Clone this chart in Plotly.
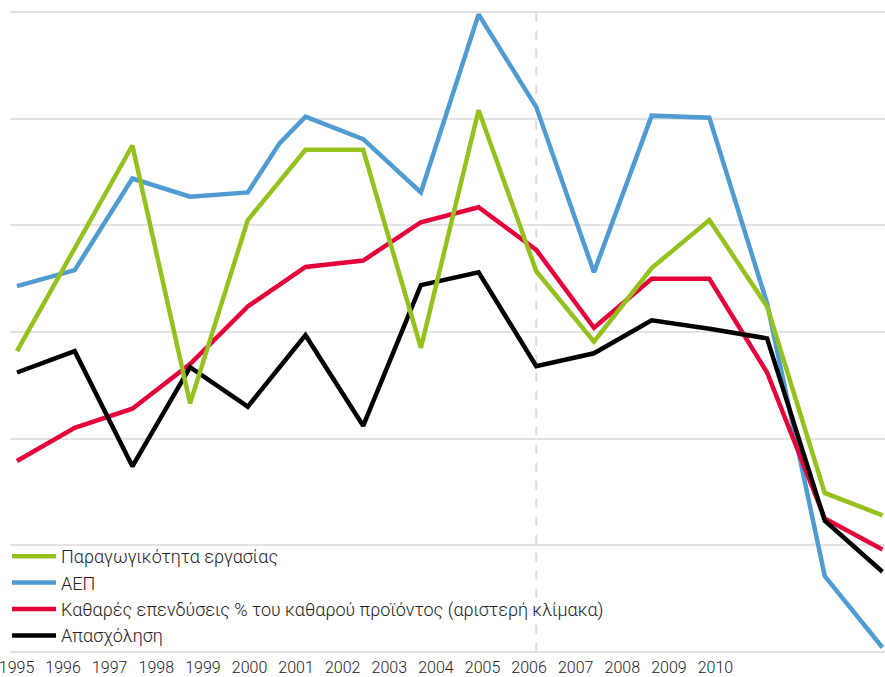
import plotly.graph_objects as go

# ---- data (arbitrary index units) ----
years = list(range(1995, 2011))
year_labels = [str(y) for y in years]

idx = list(range(16))

productivity = [2.82, 3.79, 4.75, 2.33, 4.05, 4.71, 4.71, 2.85, 5.08, 3.57,
                2.91, 3.60, 4.05, 3.24, 1.49, 1.28]

gdp_x = [0, 1, 2, 3, 4, 4.55, 5, 6, 7, 8, 9, 10, 11, 12, 13, 14, 15]
gdp = [3.43, 3.58, 4.44, 4.27, 4.31, 4.77, 5.02, 4.81, 4.31, 5.98, 5.11,
       3.56, 5.03, 5.01, 3.27, 0.71, 0.04]

inv_x = [0, 1, 2, 3, 4, 4.68, 5, 6, 7, 8, 9, 10, 11, 12, 13, 14, 15]
investment = [1.79, 2.10, 2.28, 2.70, 3.24, 3.49, 3.61, 3.67, 4.03, 4.17,
              3.77, 3.04, 3.50, 3.50, 2.62, 1.25, 0.96]

employment = [2.62, 2.82, 1.74, 2.67, 2.30, 2.97, 2.12, 3.44, 3.56, 2.68,
              2.80, 3.11, 3.03, 2.94, 1.23, 0.75]

grid_vals = [0, 1, 2, 3, 4, 5, 6]

names = ["Παραγωγικότητα εργασίας", "ΑΕΠ",
         "Καθαρές επενδύσεις % του καθαρού προϊόντος (αριστερή κλίμακα)",
         "Απασχόληση"]
colors = ["#95c11f", "#4f9bd2", "#e4003b", "#000000"]
break_index = 9
LW = 4.5

fig = go.Figure()
fig.add_trace(go.Scatter(x=gdp_x, y=gdp, mode="lines", name=names[1],
                         line=dict(color=colors[1], width=LW), legendrank=2))
fig.add_trace(go.Scatter(x=inv_x, y=investment, mode="lines", name=names[2],
                         line=dict(color=colors[2], width=LW), legendrank=3))
fig.add_trace(go.Scatter(x=idx, y=employment, mode="lines", name=names[3],
                         line=dict(color=colors[3], width=LW), legendrank=4))
fig.add_trace(go.Scatter(x=idx, y=productivity, mode="lines", name=names[0],
                         line=dict(color=colors[0], width=LW), legendrank=1))
# invisible trace carrying the year axis
fig.add_trace(go.Scatter(x=years, y=[None] * len(years), xaxis="x2", yaxis="y",
                         mode="lines", showlegend=False, hoverinfo="skip"))

fig.add_shape(type="line", xref="x", yref="y", x0=break_index, x1=break_index,
              y0=grid_vals[0], y1=grid_vals[-1],
              line=dict(color="#dcdcdc", width=2, dash="dash"), layer="below")

tick_font = dict(family="Roboto, sans-serif", size=16, color="#222222", weight=300)

fig.update_layout(
    width=885, height=677,
    margin=dict(l=10, r=0, t=8, b=21),
    paper_bgcolor="white", plot_bgcolor="white",
    xaxis=dict(range=[-0.1213, 15.044], showgrid=False, showticklabels=False,
               zeroline=False, showline=False, ticks="", automargin=False),
    xaxis2=dict(overlaying="x", anchor="y", side="bottom",
                range=[1994.8605, 2013.6375], tickmode="array", tickvals=years,
                ticktext=year_labels, showgrid=False, zeroline=False,
                showline=False, ticks="", tickfont=tick_font, automargin=False,
                ticklabeloverflow="allow", ticklabelstandoff=0),
    yaxis=dict(range=[-0.04, 6.04], tickmode="array", tickvals=grid_vals,
               showgrid=True, gridcolor="#e3e3e3", automargin=False,
               gridwidth=2, showticklabels=False, zeroline=False, ticks=""),
    legend=dict(x=-0.0034, y=0.0031, xanchor="left", yanchor="bottom",
                bgcolor="rgba(0,0,0,0)", traceorder="normal",
                font=dict(family="Roboto, sans-serif", size=18, color="#222222",
                          weight=300),
                itemwidth=44),
    showlegend=True,
)

fig.write_html(
    "out.html",
    config={"displayModeBar": False},
    post_script="document.body.style.margin='0';document.body.style.padding='0';"
                "document.body.style.overflow='hidden';",
)
